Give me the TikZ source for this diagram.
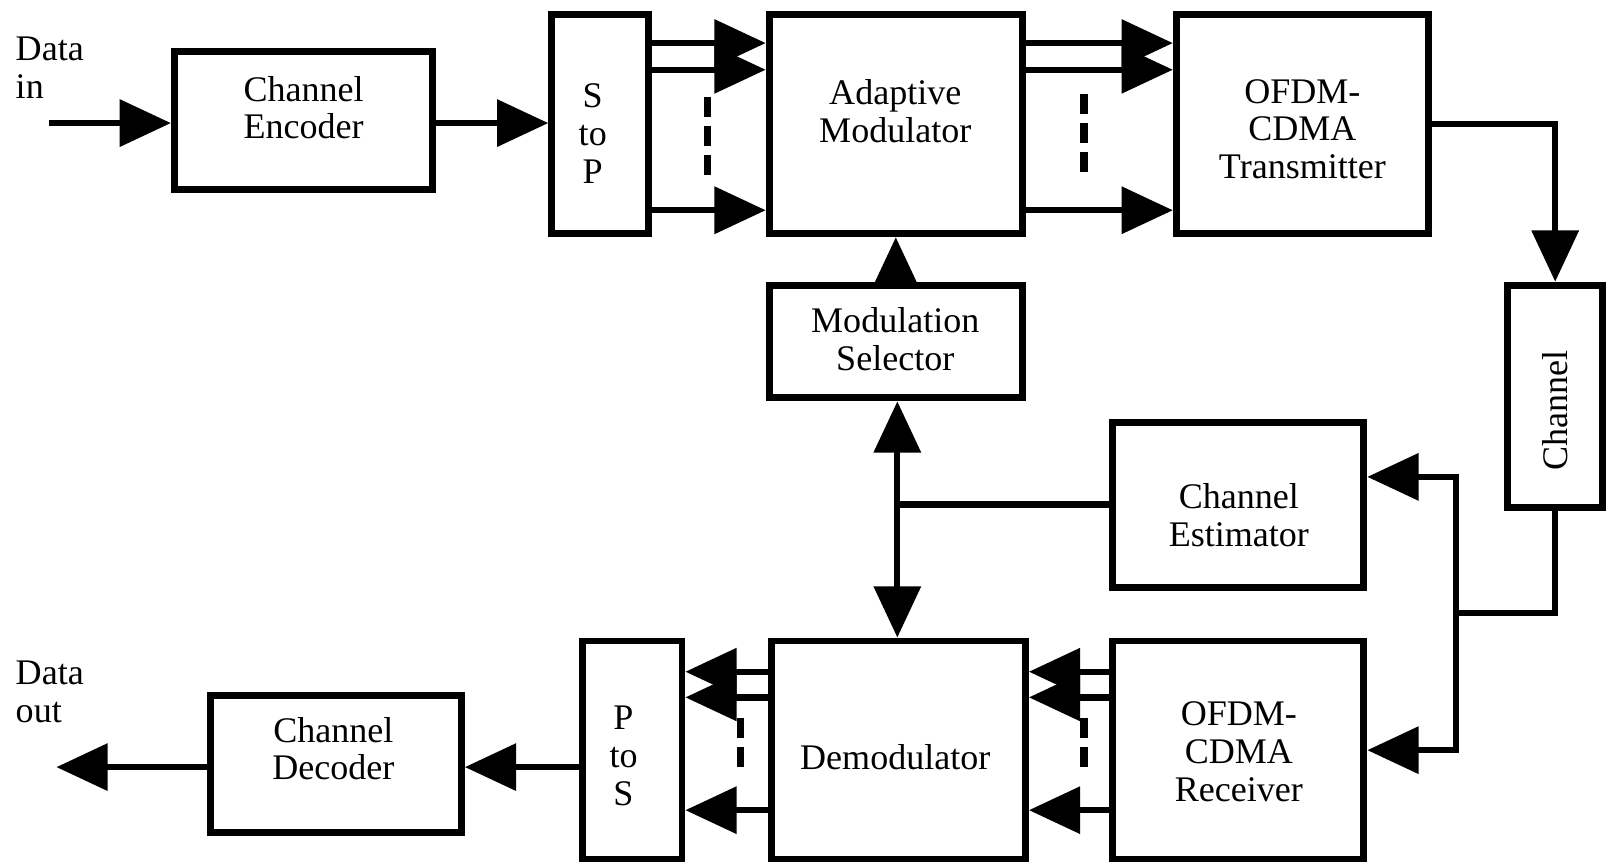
\documentclass[tikz,border=0pt]{standalone}
\usepackage{fontspec}
\setmainfont{Liberation Serif}
\usetikzlibrary{arrows.meta,calc}
\begin{document}
\begin{tikzpicture}[x=0.02cm,y=-0.02cm,
  box/.style={draw, line width=3.8pt, inner sep=0pt},
  lbl/.style={align=center, font=\fontsize{20}{21}\selectfont, inner sep=0pt},
  wire/.style={line width=3.5pt},
  arr/.style={line width=3.5pt, -{Triangle[length=1.0cm,width=0.9cm]}},
  dashv/.style={line width=4.2pt, dash pattern=on 11pt off 5pt}]
\useasboundingbox (0,0) rectangle (1568,840);
% boxes
\node[box, minimum width=5.04cm, minimum height=2.70cm] (enc) at (296,117.5) {};
\node[box, minimum width=1.88cm, minimum height=4.28cm] (s2p) at (585,121) {};
\node[box, minimum width=4.94cm, minimum height=4.28cm] (am) at (873.5,121) {};
\node[box, minimum width=4.92cm, minimum height=4.28cm] (tx) at (1270,121) {};
\node[box, minimum width=1.86cm, minimum height=4.34cm] (chan) at (1516.5,386.5) {};
\node[box, minimum width=4.94cm, minimum height=2.20cm] (ms) at (873.5,333) {};
\node[box, minimum width=4.90cm, minimum height=3.22cm] (est) at (1207.5,492.5) {};
\node[box, minimum width=4.90cm, minimum height=4.26cm] (rx) at (1207.5,731.5) {};
\node[box, minimum width=4.96cm, minimum height=4.26cm] (dem) at (876,731.5) {};
\node[box, minimum width=1.94cm, minimum height=4.26cm] (p2s) at (616.5,731.5) {};
\node[box, minimum width=4.90cm, minimum height=2.68cm] (dec) at (327.5,745) {};
% texts
\node[lbl, anchor=west, align=left] (dint) at (15,66) {Data\\in};
\node[lbl, anchor=west, align=left] (doutt) at (15,675) {Data\\out};
\node[lbl] (enct) at (296,105) {Channel\\Encoder};
\node[lbl] (s2pt) at (578,130) {S\\to\\P};
\node[lbl] (amt) at (873,108) {Adaptive\\Modulator};
\node[lbl] (txt) at (1270,126) {OFDM-\\CDMA\\Transmitter};
\node[lbl, rotate=90] (chant) at (1516,400) {Channel};
\node[lbl] (mst) at (873,331) {Modulation\\Selector};
\node[lbl] (estt) at (1208,502) {Channel\\Estimator};
\node[lbl] (rxt) at (1208,733) {OFDM-\\CDMA\\Receiver};
\node[lbl] (demt) at (873,738) {Demodulator};
\node[lbl] (p2st) at (608,737) {P\\to\\S};
\node[lbl] (dect) at (325,730) {Channel\\Decoder};
% helper coordinates
\coordinate (din) at (48,120);
\coordinate (dout) at (55,748);
\coordinate (ya) at (0,42);
\coordinate (yb) at (0,68);
\coordinate (yc) at (0,205);
\coordinate (ye) at (0,465);
\coordinate (ra) at (0,655);
\coordinate (rb) at (0,680);
\coordinate (rc) at (0,790);
\coordinate (yd) at (0,748);
\coordinate (j1) at (1420,598);
\coordinate (j2) at (875,492);
% connectors
\draw[arr] (din) -- (din -| enc.west);
\draw[arr] (enc.east |- din) -- (s2p.west |- din);
\foreach \yy in {ya,yb,yc} {
  \draw[arr] (s2p.east |- \yy) -- (am.west |- \yy);
  \draw[arr] (am.east |- \yy) -- (tx.west |- \yy);
}
\draw[arr] (tx.east) -| (chan.north);
\draw[wire] (chan.south) |- (j1);
\draw[arr] (j1) |- (est.east |- ye);
\draw[arr] (j1) |- (rx.east);
\draw[arr] (ms.north) -- (am.south);
\draw[wire] (est.west |- j2) -- (j2);
\draw[arr] (j2) -- (j2 |- ms.south);
\draw[arr] (j2) -- (j2 |- dem.north);
\foreach \yy in {ra,rb,rc} {
  \draw[arr] (rx.west |- \yy) -- (dem.east |- \yy);
  \draw[arr] (dem.west |- \yy) -- (p2s.east |- \yy);
}
\draw[arr] (p2s.west |- yd) -- (dec.east |- yd);
\draw[arr] (dec.west |- yd) -- (dout);
% dashed separators
\coordinate (da1) at (690,95);  \coordinate (da2) at (690,172);
\coordinate (db1) at (1057,92); \coordinate (db2) at (1057,172);
\coordinate (dc1) at (722,700); \coordinate (dc2) at (722,756);
\coordinate (dd1) at (1057,700); \coordinate (dd2) at (1057,756);
\draw[dashv] (da1) -- (da2);
\draw[dashv] (db1) -- (db2);
\draw[dashv] (dc1) -- (dc2);
\draw[dashv] (dd1) -- (dd2);
\end{tikzpicture}
\end{document}
